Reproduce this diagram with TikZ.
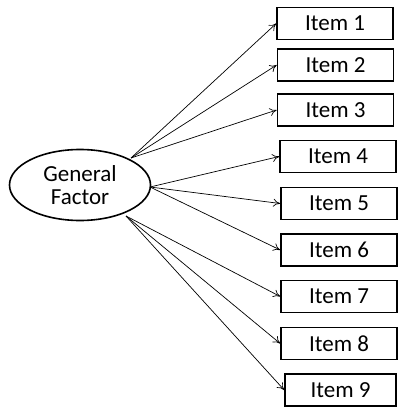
\documentclass[tikz,border=0pt]{standalone}
\usepackage{fontspec}
\setmainfont{Carlito}
\usetikzlibrary{shapes.geometric,arrows.meta}
\begin{document}
\begin{tikzpicture}[x=1pt,y=-1pt,
  itembox/.style={draw, line width=1.6pt, minimum width=116pt, minimum height=32pt, inner sep=0pt, font=\fontsize{23}{24}\selectfont},
  factor/.style={draw, ellipse, line width=1.6pt, minimum width=141pt, minimum height=71pt, inner sep=0pt, align=center, font=\fontsize{23}{23}\selectfont},
  link/.style={line width=0.7pt, -{To[length=7pt,width=8pt]}}]
\useasboundingbox (0,0) rectangle (398,409);
\node[factor] (g) at (80,185) {General\\Factor};
\node[itembox] (i1) at (335,23.5) {Item 1};
\node[itembox] (i2) at (335.5,65) {Item 2};
\node[itembox] (i3) at (335.5,110) {Item 3};
\node[itembox] (i4) at (338,156.5) {Item 4};
\node[itembox] (i5) at (339,203.5) {Item 5};
\node[itembox] (i6) at (339,250) {Item 6};
\node[itembox] (i7) at (339,296.5) {Item 7};
\node[itembox] (i8) at (339,343.5) {Item 8};
\node[itembox, minimum width=111pt] (i9) at (340.5,390) {Item 9};
\coordinate (s1) at (131,158);
\coordinate (s2) at (150,187);
\coordinate (s3) at (126,216);
\foreach \i in {1,2,3} \draw[link] (s1) -- (i\i.west);
\foreach \i in {4,5,6} \draw[link] (s2) -- (i\i.west);
\foreach \i in {7,8,9} \draw[link] (s3) -- (i\i.west);
\end{tikzpicture}
\end{document}
